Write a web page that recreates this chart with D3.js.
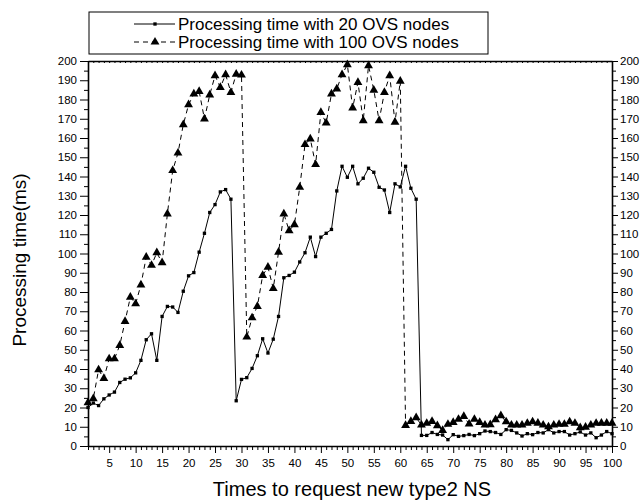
<!DOCTYPE html>
<html>
<head>
<meta charset="utf-8">
<script src="https://cdn.jsdelivr.net/npm/d3@7"></script>
<style>
  body { margin: 0; background: #fff; }
  svg { display: block; font-family: Arial, "Liberation Sans", sans-serif; }
  .axis path, .axis line { stroke: #000; }
  .axis text { font-size: 11.5px; fill: #000; }
</style>
</head>
<body>
<svg width="640" height="501"></svg>
<script>
const width = 640,
  height = 501

// request index 1..100
const requests = d3.range(1, 101)

// processing time (ms), 20 OVS nodes
const nodes20 = [
  20, 22.3, 21, 24.5, 26.5, 28, 33, 34.7, 35.4, 38,
  44.5, 55.2, 58.3, 44.5, 67.3, 72.5, 72.2, 69.4, 80.4, 88.4,
  90.1, 100.7, 110.5, 121.3, 125.4, 132, 133.2, 128.2, 23.5, 34.6,
  35.5, 40.3, 46.9, 55.7, 48.3, 55.5, 67.3, 87.4, 88.6, 90.3,
  95.6, 100.4, 108.5, 98.4, 108.5, 110.5, 112.5, 132.5, 145.3, 139.6,
  145.3, 136.2, 139.1, 144.3, 142.2, 134.4, 133, 121.3, 136.2, 134.6,
  145.3, 133.9, 128.2, 5.5, 5.5, 7, 6, 5.7, 3.3, 5.9,
  5, 5.4, 6, 5.4, 6.4, 7.8, 7.5, 7, 6, 8.5,
  8.1, 6.8, 5.2, 6.4, 5.9, 7, 6.8, 8.5, 6.8, 7.5,
  7.5, 5.7, 6.4, 7.3, 5.7, 6.8, 4.3, 5.7, 7.5, 6.4
]

// processing time (ms), 100 OVS nodes
const nodes100 = [
  22.5, 24.6, 39.6, 35.1, 45.3, 45.3, 52.3, 64.7, 77.3, 73.9,
  83.7, 98.1, 93.9, 100.4, 95.2, 120.6, 143.1, 152.2, 166.9, 177.3,
  182.9, 184.2, 169.9, 182.4, 192.4, 186.3, 192.9, 183.7, 193.2, 192.7,
  56.6, 66.6, 72.5, 88.6, 92.9, 81.8, 100.7, 120.6, 111.9, 115,
  134.4, 156.6, 159.5, 146.2, 173.3, 167.8, 182.9, 185.5, 192.9, 198.1,
  175.6, 188.9, 169, 197.6, 184.9, 169, 183.7, 192.4, 168.2, 189.5,
  10.7, 12.8, 14.7, 10.9, 11.8, 12.8, 10.6, 8.1, 11.3, 12.3,
  13.9, 15.4, 11.4, 13.9, 12.3, 10.9, 11.1, 13.7, 15.8, 12.6,
  10.9, 10.9, 10.9, 11.8, 12.6, 11.9, 10.9, 10, 10.9, 11.3,
  11.3, 12.6, 11.8, 9.5, 9.8, 10.9, 11.8, 11.9, 11.9, 11.9
]

const seriesNames = [
  'Processing time with 20 OVS nodes',
  'Processing time with 100 OVS nodes'
]

const yMajor = d3.range(0, 201, 10)
const yMinor = d3.range(5, 200, 10)
const xMajor = d3.range(5, 101, 5)
const xMinor = d3.range(1, 101, 1).filter(v => v % 5 !== 0)

let svg = d3.select('svg')

let x = d3.scaleLinear().domain([1, 100]).range([88, 612])
let y = d3.scaleLinear().domain([0, 200]).range([446, 61])

// axes
let plot = svg.append('g')

plot.append('g')
  .attr('class', 'axis')
  .attr('transform', `translate(${x.range()[0]},0)`)
  .call(d3.axisLeft(y).tickValues(yMajor).tickSize(8).tickPadding(3).tickSizeOuter(0))

plot.append('g')
  .attr('class', 'axis')
  .attr('transform', `translate(${x.range()[0]},0)`)
  .call(d3.axisLeft(y).tickValues(yMinor).tickSize(4).tickFormat('').tickSizeOuter(0))
  .select('.domain').remove()

plot.append('g')
  .attr('class', 'axis')
  .attr('transform', `translate(${x.range()[1]},0)`)
  .call(d3.axisRight(y).tickValues(yMajor).tickSize(6).tickPadding(2).tickSizeOuter(0))

plot.append('g')
  .attr('class', 'axis')
  .attr('transform', `translate(${x.range()[1]},0)`)
  .call(d3.axisRight(y).tickValues(yMinor).tickSize(4).tickFormat('').tickSizeOuter(0))
  .select('.domain').remove()

plot.append('g')
  .attr('class', 'axis')
  .attr('transform', `translate(0,${y(0)})`)
  .call(d3.axisBottom(x).tickValues(xMajor).tickSize(7).tickPadding(6).tickSizeOuter(0))

plot.append('g')
  .attr('class', 'axis')
  .attr('transform', `translate(0,${y(0)})`)
  .call(d3.axisBottom(x).tickValues(xMinor).tickSize(4).tickFormat('').tickSizeOuter(0))
  .select('.domain').remove()

// top frame, small ticks pointing in
plot.append('g')
  .attr('class', 'axis')
  .attr('transform', `translate(0,${y(200)})`)
  .call(d3.axisTop(x).tickValues(requests).tickSize(-2).tickFormat('').tickSizeOuter(0))

plot.selectAll('.axis .domain').attr('stroke-width', 1.6)

// series
let line = d3.line()
  .x((d, i) => x(requests[i]))
  .y(d => y(d))

svg.append('path')
  .datum(nodes100)
  .attr('fill', 'none')
  .attr('stroke', '#000')
  .attr('stroke-width', 1)
  .attr('stroke-dasharray', '5,4')
  .attr('d', line)

svg.append('path')
  .datum(nodes20)
  .attr('fill', 'none')
  .attr('stroke', '#000')
  .attr('stroke-width', 1)
  .attr('d', line)

let tri = d3.symbol(d3.symbolTriangle).size(34)
let sq = d3.symbol(d3.symbolSquare).size(11)

svg.append('g').selectAll('path')
  .data(nodes100)
  .enter().append('path')
  .attr('d', tri)
  .attr('transform', (d, i) => `translate(${x(requests[i])},${y(d)})`)

svg.append('g').selectAll('path')
  .data(nodes20)
  .enter().append('path')
  .attr('d', sq)
  .attr('transform', (d, i) => `translate(${x(requests[i])},${y(d)})`)

// legend
let legend = svg.append('g')
legend.append('rect')
  .attr('x', 89).attr('y', 12)
  .attr('width', 399).attr('height', 42)
  .attr('fill', '#fff').attr('stroke', '#000')

let rows = legend.selectAll('g.row')
  .data(seriesNames)
  .enter().append('g')
  .attr('class', 'row')
  .attr('transform', (d, i) => `translate(0,${24 + i * 18})`)

rows.append('line')
  .attr('x1', 134).attr('x2', 175)
  .attr('stroke', '#000')
  .attr('stroke-dasharray', (d, i) => i ? '5,4' : null)

rows.append('path')
  .attr('d', (d, i) => i ? tri() : sq())
  .attr('transform', 'translate(155,0)')

rows.append('text')
  .attr('x', 178).attr('y', 5.5)
  .attr('font-size', 17)
  .text(d => d)

// titles
svg.append('text')
  .attr('x', 352).attr('y', 496)
  .attr('text-anchor', 'middle')
  .attr('font-size', 20)
  .text('Times to request new type2 NS')

svg.append('text')
  .attr('transform', 'translate(26,260) rotate(-90)')
  .attr('text-anchor', 'middle')
  .attr('font-size', 19)
  .text('Processing time(ms)')
</script>
</body>
</html>
